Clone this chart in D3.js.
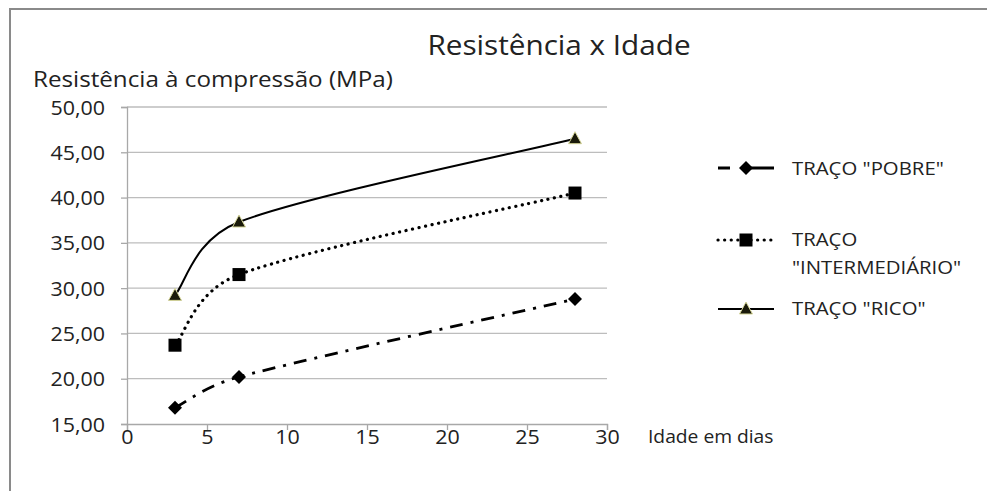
<!DOCTYPE html>
<html><head><meta charset="utf-8">
<script src="https://cdn.jsdelivr.net/npm/d3@7"></script>
<style>body{margin:0;background:#fff}svg{display:block}text{font-family:"Open Sans",sans-serif;fill:#222}</style>
</head><body>
<svg id="c" width="987" height="491"></svg>
<script>
const days = [3, 7, 28];
const pobre = [16.8, 20.2, 28.8];
const intermediario = [23.7, 31.5, 40.5];
const rico = [29.2, 37.3, 46.5];
const seriesNames = ['TRAÇO "POBRE"', 'TRAÇO "INTERMEDIÁRIO"', 'TRAÇO "RICO"'];
const xTicks = [0, 5, 10, 15, 20, 25, 30];
const yTicks = [15, 20, 25, 30, 35, 40, 45, 50];
const title = "Resistência x Idade";
const yTitle = "Resistência à compressão (MPa)";
const xTitle = "Idade em dias";

const SX = 1.1;
const svg = d3.select("#c");
svg.append("path").attr("d","M10,491 L10,9 L987,9").attr("fill","none").attr("stroke","#8a8a8a").attr("stroke-width",2);

const x = d3.scaleLinear().domain([0,30]).range([127,607]);
const y = d3.scaleLinear().domain([15,50]).range([424,107]);

svg.append("g").selectAll("line").data(yTicks.slice(1)).join("line")
  .attr("x1",x(0)).attr("x2",x(30)).attr("y1",d=>y(d)).attr("y2",d=>y(d))
  .attr("stroke","#bdbdbd").attr("stroke-width",1.3);

const fmt = d => d.toFixed(2).replace(".", ",");
const yAxis = svg.append("g").attr("transform",`translate(${x(0)},0)`)
  .call(d3.axisLeft(y).tickValues(yTicks).tickFormat(fmt).tickSize(6));
const xAxis = svg.append("g").attr("transform",`translate(0,${y(15)})`)
  .call(d3.axisBottom(x).tickValues(xTicks).tickSize(6));
[yAxis,xAxis].forEach(a=>{
  a.select(".domain").attr("stroke","#a8a8a8").attr("stroke-width",1.3);
  a.selectAll(".tick line").attr("stroke","#a8a8a8").attr("stroke-width",1.3);
  a.selectAll("text").attr("font-size",19.5).attr("fill","#333").attr("font-family","Open Sans");
});
yAxis.selectAll("text").attr("x",-22/SX).attr("dy","0.36em").attr("transform",`scale(${SX},1)`);
xAxis.selectAll("text").attr("y",20).attr("dy",0).attr("transform",`scale(${SX},1)`);

function txt(xp, yp, size, s, anchor, fill){
  return svg.append("text").attr("transform",`translate(${xp},${yp}) scale(${SX},1)`)
    .attr("font-size",size).attr("text-anchor",anchor||"start").attr("fill",fill||"#333").text(s);
}
txt(559, 55, 27, title, "middle", "#222");
txt(33, 87, 22, yTitle, "start", "#222");
txt(648, 443, 17.5, xTitle);

// Excel-like smoothed line: Bezier handles of 1/6 the neighbour span, capped at half the segment length
function smoothPath(pts){
  const p = d3.path();
  const n = pts.length;
  const tang = pts.map((pt,i)=>{
    const a = pts[Math.max(0,i-1)], b = pts[Math.min(n-1,i+1)];
    const dx = b[0]-a[0], dy = b[1]-a[1], L = Math.hypot(dx,dy);
    return [dx/L, dy/L, L/6];
  });
  p.moveTo(pts[0][0], pts[0][1]);
  for(let i=0;i<n-1;i++){
    const P = pts[i], Q = pts[i+1];
    const seg = Math.hypot(Q[0]-P[0], Q[1]-P[1]);
    const h1 = Math.min(tang[i][2], seg/2), h2 = Math.min(tang[i+1][2], seg/2);
    p.bezierCurveTo(P[0]+tang[i][0]*h1, P[1]+tang[i][1]*h1,
                    Q[0]-tang[i+1][0]*h2, Q[1]-tang[i+1][1]*h2, Q[0], Q[1]);
  }
  return p.toString();
}

const styles = [
  {data:pobre, dash:"13 8 3 8", cap:"butt", w:2.8},
  {data:intermediario, dash:"0.1 6.5", cap:"round", w:3.2},
  {data:rico, dash:null, cap:"butt", w:2}
];
styles.forEach(s=>{
  const pts = days.map((d,i)=>[x(d),y(s.data[i])]);
  svg.append("path").attr("d",smoothPath(pts)).attr("fill","none").attr("stroke","#000")
    .attr("stroke-width",s.w).attr("stroke-dasharray",s.dash).attr("stroke-linecap",s.cap);
});

function marker(g, type, cx, cy){
  if(type===0){
    g.append("path").attr("d",`M${cx},${cy-7}L${cx+7},${cy}L${cx},${cy+7}L${cx-7},${cy}Z`).attr("fill","#000");
  } else if(type===1){
    g.append("rect").attr("x",cx-6.5).attr("y",cy-6.5).attr("width",13).attr("height",13).attr("fill","#000");
  } else {
    g.append("path").attr("d",`M${cx},${cy-7}L${cx+6.5},${cy+5}L${cx-6.5},${cy+5}Z`).attr("fill","#1a1a0a").attr("stroke","#d8d89a").attr("stroke-width",1);
  }
}
const mg = svg.append("g");
[pobre,intermediario,rico].forEach((arr,k)=>{
  days.forEach((d,i)=>marker(mg,k,x(d),y(arr[i])));
});

const leg = svg.append("g");
const legY = [168, 240, 309];
const legDash = ["12 12 40", "0.1 6.5", null];
styles.forEach((s,k)=>{
  leg.append("line").attr("x1",718).attr("x2",774).attr("y1",legY[k]).attr("y2",legY[k])
    .attr("stroke","#000").attr("stroke-width",s.w).attr("stroke-dasharray",legDash[k]).attr("stroke-linecap",s.cap);
  marker(leg,k,746,legY[k]);
});
const lt = (yp, s) => leg.append("text").attr("transform",`translate(792,${yp}) scale(${SX},1)`).attr("font-size",18.5).attr("fill","#333").text(s);
lt(175, seriesNames[0]);
lt(246, "TRAÇO");
lt(274, '"INTERMEDIÁRIO"');
lt(315, seriesNames[2]);
</script>
</body></html>
